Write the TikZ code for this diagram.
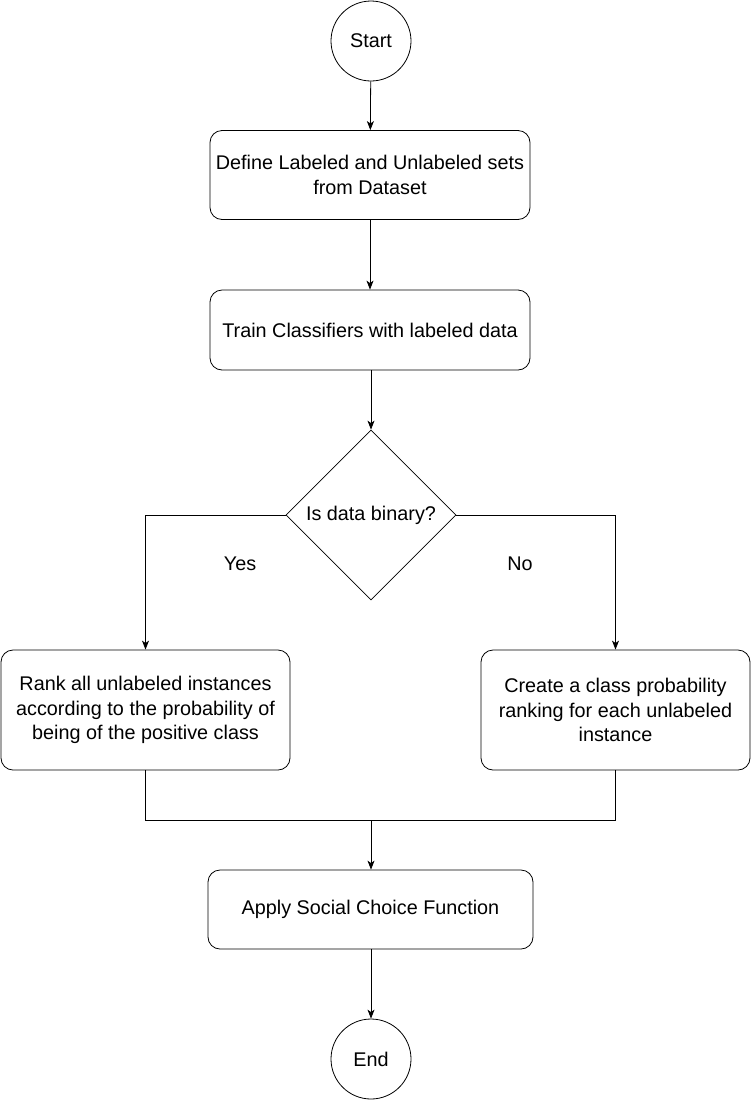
\documentclass[tikz,border=0pt]{standalone}
\usepackage{fontspec}
\setmainfont{Liberation Sans}
\usetikzlibrary{shapes.geometric,arrows.meta}
\begin{document}
\begin{tikzpicture}[x=1pt,y=-1pt,
  every node/.style={font=\fontsize{19.8}{24.5}\selectfont, align=center, inner sep=0pt},
  term/.style={draw, circle, minimum size=80pt, line width=0.8pt},
  proc/.style={draw, rounded corners=12pt, line width=0.8pt},
  dec/.style={draw, diamond, minimum width=170pt, minimum height=170pt, aspect=1, line width=0.8pt},
  lbl/.style={},
  conn/.style={line width=0.8pt},
  arr/.style={conn, -{Stealth[length=9pt,width=7pt,inset=2.5pt]}}
]
\useasboundingbox (0,0) rectangle (752,1104);
\node[term] (start) at (371,41) {Start};
\node[proc, minimum width=320pt, minimum height=89pt] (define) at (370,175) {Define Labeled and Unlabeled sets\\from Dataset};
\node[proc, minimum width=320pt, minimum height=80pt] (train) at (370,330) {Train Classifiers with labeled data};
\node[dec] (bin) at (371,515) {Is data binary?};
\node[lbl] (yes) at (240,564) {Yes};
\node[lbl] (no) at (520,564) {No};
\node[proc, minimum width=289pt, minimum height=120pt] (rank) at (145.5,710) {Rank all unlabeled instances\\according to the probability of\\being of the positive class};
\node[proc, minimum width=269pt, minimum height=120pt] (create) at (615.5,710) {Create a class probability\\ranking for each unlabeled\\instance};
\coordinate (join) at (371,820);
\node[proc, minimum width=325pt, minimum height=79pt] (social) at (370.5,909.5) {Apply Social Choice Function};
\node[term] (end) at (371,1059) {End};

\draw[arr] (start) -- (define);
\draw[arr] (define) -- (train);
\draw[arr] (train.south -| bin.north) -- (bin.north);
\draw[arr] (bin.west) -| (rank.north);
\draw[arr] (bin.east) -| (create.north);
\draw[conn] (rank.south) |- (join);
\draw[conn] (create.south) |- (join);
\draw[arr] (join) -- (social.north -| join);
\draw[arr] (social.south -| end.north) -- (end.north);
\end{tikzpicture}
\end{document}
